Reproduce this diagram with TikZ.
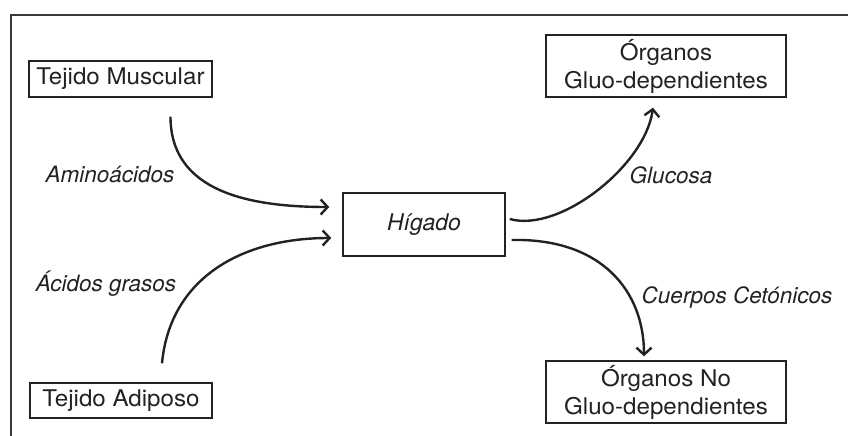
\documentclass[tikz,border=0pt]{standalone}
\usepackage{fontspec}
\setmainfont[FakeStretch=1.05]{TeX Gyre Heros}
\newfontfamily\labfont{TeX Gyre Heros}
\usetikzlibrary{arrows.meta,calc}
\definecolor{ink}{HTML}{222222}
\begin{document}
\begin{tikzpicture}[x=1pt,y=-1pt,
  box/.style={draw=ink,line width=1.4pt,inner sep=0pt,align=center,font=\fontsize{23}{28}\selectfont,text=ink},
  lab/.style={font=\labfont\fontsize{22.5}{26}\selectfont\itshape,text=ink,inner sep=0pt},
  flow/.style={draw=ink,line width=2.4pt,-{Straight Barb[length=7pt,width=15pt,line width=2.4pt]}}]
\useasboundingbox (0,0) rectangle (848,436);
\clip (0,0) rectangle (848,436);
\draw[line width=2.2pt,draw=ink!90] (11,15) rectangle (870,460);
\node[box,minimum width=183pt,minimum height=36pt] (mus) at (120.5,79) {Tejido Muscular};
\node[box,minimum width=182pt,minimum height=35pt] (adi) at (121,400.5) {Tejido Adiposo};
\node[box,minimum width=162pt,minimum height=63pt,font=\labfont\fontsize{23}{28}\selectfont\itshape] (hig) at (424,224.5) {Hígado};
\node[box,minimum width=240pt,minimum height=62pt] (og) at (666,66) {Órganos\\Gluo-dependientes};
\node[box,minimum width=240pt,minimum height=62pt] (ong) at (666,392) {Órganos No\\Gluo-dependientes};
\coordinate (m1) at ($(mus.south)+(50,19)$);
\coordinate (a1) at ($(adi.north)+(41,-19)$);
\coordinate (h1) at ($(hig.west)+(-13,-17.5)$);
\coordinate (h2) at ($(hig.west)+(-11,13.5)$);
\coordinate (h3) at ($(hig.east)+(4,-5.5)$);
\coordinate (h4) at ($(hig.east)+(6,15.5)$);
\coordinate (g1) at ($(og.south)+(-13,10)$);
\coordinate (n1) at ($(ong.north)+(-22,-4)$);
\draw[flow] (m1) .. controls ($(m1)+(0,75)$) and ($(h1)+(-80,0)$) .. (h1);
\draw[flow] (a1) .. controls ($(a1)+(8,-85)$) and ($(h2)+(-90,0)$) .. (h2);
\draw[flow] (h3) .. controls ($(h3)+(50,14)$) and ($(g1)+(-8,58)$) .. (g1);
\draw[flow] (h4) .. controls ($(h4)+(90,-2)$) and ($(n1)+(0,-65)$) .. (n1);
\node[lab] (la) at (110,174) {Aminoácidos};
\node[lab] (lb) at (106,284) {Ácidos grasos};
\node[lab] (lc) at (671,175) {Glucosa};
\node[lab] (ld) at (737,297) {Cuerpos Cetónicos};
\end{tikzpicture}
\end{document}
